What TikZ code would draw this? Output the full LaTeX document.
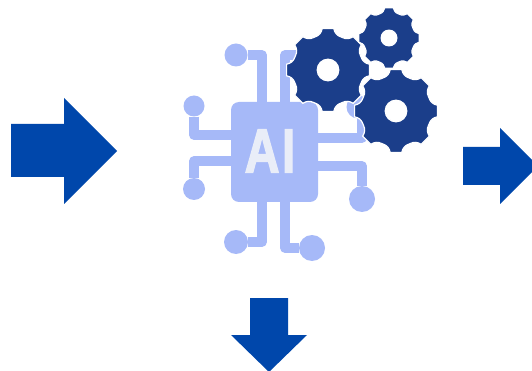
\documentclass[tikz,border=0pt]{standalone}
\usepackage{fontspec}
\setmainfont{Liberation Sans}
\newfontfamily\aifont[UprightFont={* Bold},FakeBold=2.5]{Liberation Sans}
\definecolor{arrowblue}{HTML}{0047AB}
\definecolor{gearblue}{HTML}{1B3E8A}
\definecolor{chipblue}{HTML}{A6B9F8}
\definecolor{chiptext}{HTML}{E9EDF8}
\tikzset{
  flow/.style={fill=arrowblue,draw=none},
  trace/.style={draw=chipblue,line width=9.5pt,line join=round},
  pad/.style={circle,fill=chipblue,draw=none,inner sep=0pt,minimum size=#1},
  gearshape/.style={fill=gearblue,draw=white,line width=1.2pt,even odd rule}
}
\newcommand{\gearat}[3]{%
  \begin{scope}[shift={(#1,#2)},scale=#3]
    \path[gearshape] (-8:41.8pt)
      \foreach \a in {0,45,...,315}{
        -- (\a-8:41.8pt) -- (\a+8:41.8pt)
        .. controls (\a+10:38pt) and (\a+14:35.5pt) .. (\a+22.5:35.5pt)
        .. controls (\a+31:35.5pt) and (\a+35:38pt) .. (\a+37:41.8pt)
      } -- cycle
      (0,0) circle (10.8pt);
  \end{scope}}
\begin{document}
\begin{tikzpicture}[x=1pt,y=-1pt]
  \useasboundingbox[fill=white] (0,0) rectangle (532,371);
  \clip (0,0) rectangle (532,371);

  % flow arrows
  \fill[flow] (11,124) -- (64,124) -- (64,98) -- (117,151) -- (64,204) -- (64,177) -- (11,177) -- cycle;
  \fill[flow] (463,147) -- (500,147) -- (500,128) -- (538,166) -- (500,204) -- (500,185) -- (463,185) -- cycle;
  \fill[flow] (250,298) -- (288,298) -- (288,335) -- (307,335) -- (269,372) -- (231,335) -- (250,335) -- cycle;

  % chip
  \node[fill=chipblue,rounded corners=8pt,minimum width=87pt,minimum height=100pt,inner sep=0pt] (chip) at (274.5,152) {};
  \node[pad=23pt] (padtl) at (236,55) {};
  \node[pad=21pt] (padlu) at (194,106) {};
  \node[pad=22pt] (padll) at (194,189) {};
  \node[pad=23pt] (padru) at (358,107) {};
  \node[pad=26pt] (padrl) at (362,199) {};
  \node[pad=24pt] (padbl) at (236,242) {};
  \node[pad=26pt] (padbr) at (312,248) {};
  \coordinate (endtr) at (305,55);
  \coordinate (jt1) at (262,102);
  \coordinate (jt2) at (285,102);
  \coordinate (jl1) at (231,135);
  \coordinate (jl2) at (231,161);
  \coordinate (jr1) at (318,138);
  \coordinate (jr2) at (318,166);
  \coordinate (jb1) at (262,202);
  \coordinate (jb2) at (285,202);
  \coordinate (jru) at (362,110);
  \draw[trace] (padtl) -| (jt1);
  \draw[trace] (endtr) -| (jt2);
  \draw[trace] (padlu) |- (jl1);
  \draw[trace] (padll) |- (jl2);
  \draw[trace] (jr1) -| (jru);
  \draw[trace] (jr2) -| (padrl);
  \draw[trace] (padbl) -| (jb1);
  \draw[trace] (padbr) -| (jb2);
  \node[xscale=.78,text=chiptext,inner sep=0pt,font=\aifont\fontsize{62}{62}\selectfont] (ailabel) at (270,151) {A\kern3pt I};

  % gears
  \gearat{328}{70}{1}
  \gearat{389}{38}{0.73}
  \gearat{396}{111}{1}
\end{tikzpicture}
\end{document}
